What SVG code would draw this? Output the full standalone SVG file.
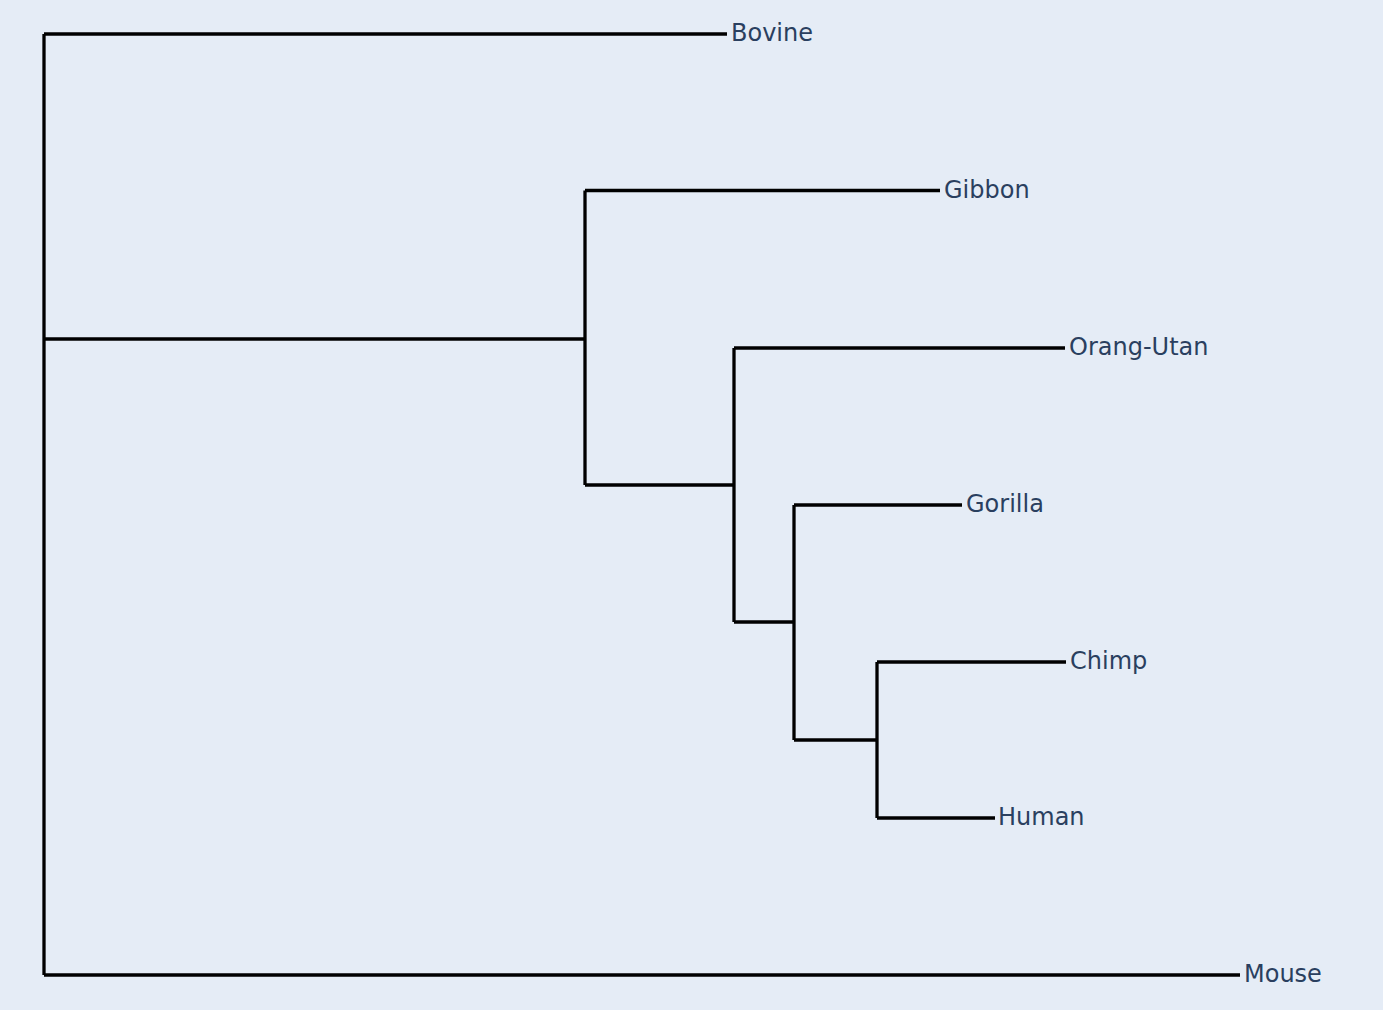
<svg xmlns="http://www.w3.org/2000/svg" width="1383" height="1010" viewBox="0 0 1383 1010">
<style>
.e{stroke:#000;stroke-width:3.3;fill:none;stroke-linecap:butt}
.l{font-family:"DejaVu Sans","Verdana",sans-serif;font-size:24px;fill:#2a3f5f}
</style>
<rect width="1383" height="1010" fill="#e5ecf6"/>
<g id="connectors">
<path class="e" d="M44,34 V975"/>
<path class="e" d="M44,34 H727"/>
<path class="e" d="M44,975 H1240"/>
<path class="e" d="M44,339 H585"/>
<path class="e" d="M585,190.5 V485"/>
<path class="e" d="M585,190.5 H940"/>
<path class="e" d="M585,485 H734"/>
<path class="e" d="M734,348 V622"/>
<path class="e" d="M734,348 H1065"/>
<path class="e" d="M734,622 H794"/>
<path class="e" d="M794,505 V740"/>
<path class="e" d="M794,505 H962"/>
<path class="e" d="M794,740 H877"/>
<path class="e" d="M877,662 V818"/>
<path class="e" d="M877,662 H1066"/>
<path class="e" d="M877,818 H995"/>
</g>
<g id="Bovine"><text class="l" x="731" y="41">Bovine</text></g>
<g id="Gibbon"><text class="l" x="944" y="197.5">Gibbon</text></g>
<g id="Orang-Utan"><text class="l" x="1069" y="355">Orang-Utan</text></g>
<g id="Gorilla"><text class="l" x="966" y="511.5">Gorilla</text></g>
<g id="Chimp"><text class="l" x="1070" y="668.5">Chimp</text></g>
<g id="Human"><text class="l" x="998" y="825">Human</text></g>
<g id="Mouse"><text class="l" x="1244" y="981.5">Mouse</text></g>
</svg>
